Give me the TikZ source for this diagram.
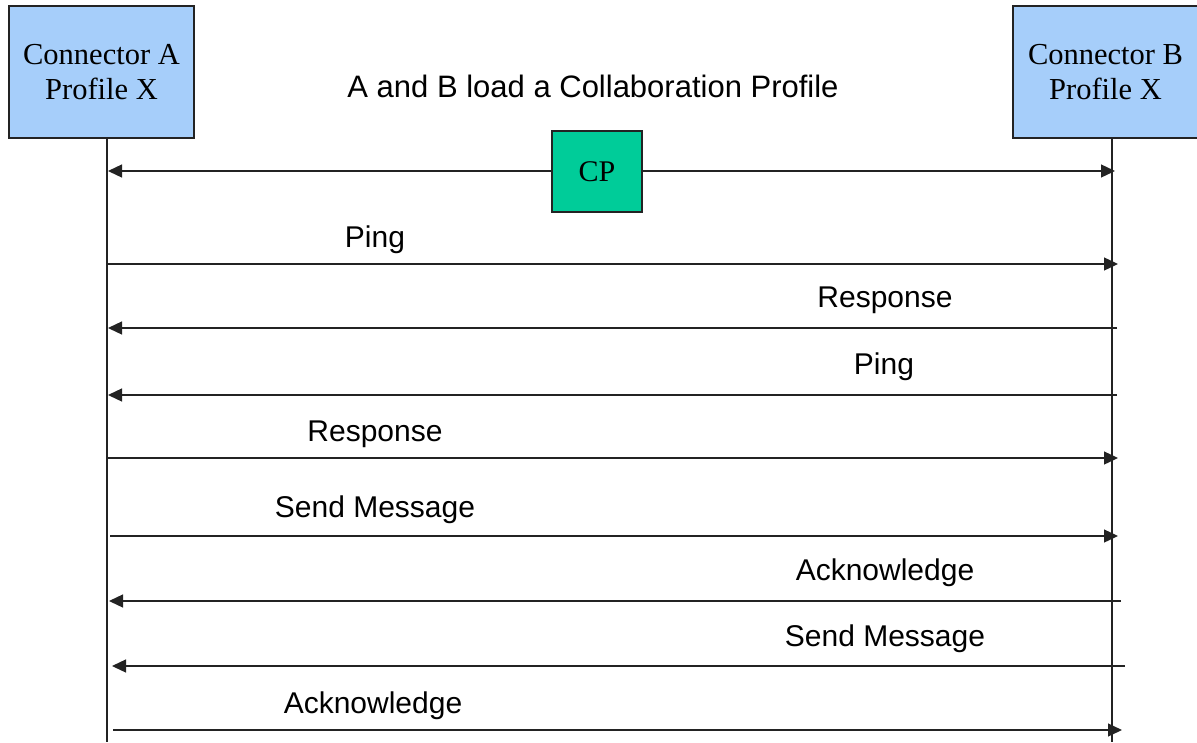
\documentclass[tikz,border=0pt]{standalone}
\usepackage{fontspec}
\setmainfont{Liberation Serif}
\newfontfamily\arialfont{Liberation Sans}
\usetikzlibrary{arrows.meta}
\definecolor{boxblue}{RGB}{166,206,250}
\definecolor{cpgreen}{RGB}{0,204,153}
\definecolor{edge}{RGB}{35,35,35}
\tikzset{
  actor/.style={draw=edge, line width=1.4pt, fill=boxblue, minimum width=185pt, minimum height=132pt,
    inner sep=0pt, align=center, font=\fontsize{30.5}{35}\selectfont},
  cpbox/.style={draw=edge, line width=1.4pt, fill=cpgreen, minimum width=90pt, minimum height=81pt,
    inner sep=0pt, font=\fontsize{30}{35}\selectfont},
  life/.style={draw=edge, line width=1.5pt},
  msg/.style={draw=edge, line width=1.3pt, -{Triangle[length=14pt 0,width=13pt 0]}},
  lbl/.style={font=\arialfont\fontsize{30}{35}\selectfont, anchor=base, inner sep=0pt},
}
\begin{document}
\begin{tikzpicture}[x=1pt,y=-1pt]
\useasboundingbox (0,0) rectangle (1197,742);
% actors
\node[actor] (A) at (101.5,72) {Connector A\\Profile X};
\node[actor] (B) at (1105.5,72) {Connector B\\Profile X};
\node[cpbox] (CP) at (597,171.5) {CP};
% lifelines
\coordinate (Atop) at (107,138);
\coordinate (Abot) at (107,742);
\coordinate (Btop) at (1112,138);
\coordinate (Bbot) at (1112,742);
\draw[life] (Atop) -- (Abot);
\draw[life] (Btop) -- (Bbot);
% title
\node[lbl, font=\arialfont\fontsize{31}{35}\selectfont] (title) at (593,97) {A and B load a Collaboration Profile};
% CP arrows
\coordinate (cpl) at (108,171);
\coordinate (cpr) at (1115,171);
\draw[msg] (CP.west |- cpl) -- (cpl);
\draw[msg] (CP.east |- cpr) -- (cpr);
% message endpoints
\coordinate (m1a) at (107,264);  \coordinate (m1b) at (1118,264);
\coordinate (m2a) at (1117,328); \coordinate (m2b) at (108,328);
\coordinate (m3a) at (1117,395); \coordinate (m3b) at (108,395);
\coordinate (m4a) at (107,458);  \coordinate (m4b) at (1118,458);
\coordinate (m5a) at (110,536);  \coordinate (m5b) at (1118,536);
\coordinate (m6a) at (1121,601); \coordinate (m6b) at (109,601);
\coordinate (m7a) at (1125,666); \coordinate (m7b) at (112,666);
\coordinate (m8a) at (113,730);  \coordinate (m8b) at (1122,730);
\draw[msg] (m1a) -- (m1b);
\draw[msg] (m2a) -- (m2b);
\draw[msg] (m3a) -- (m3b);
\draw[msg] (m4a) -- (m4b);
\draw[msg] (m5a) -- (m5b);
\draw[msg] (m6a) -- (m6b);
\draw[msg] (m7a) -- (m7b);
\draw[msg] (m8a) -- (m8b);
% labels
\node[lbl] (l1) at (375,247) {Ping};
\node[lbl] (l2) at (885,307) {Response};
\node[lbl] (l3) at (884,374) {Ping};
\node[lbl] (l4) at (375,441) {Response};
\node[lbl] (l5) at (375,517) {Send Message};
\node[lbl] (l6) at (885,580) {Acknowledge};
\node[lbl] (l7) at (885,646) {Send Message};
\node[lbl] (l8) at (373,713) {Acknowledge};
\end{tikzpicture}
\end{document}
